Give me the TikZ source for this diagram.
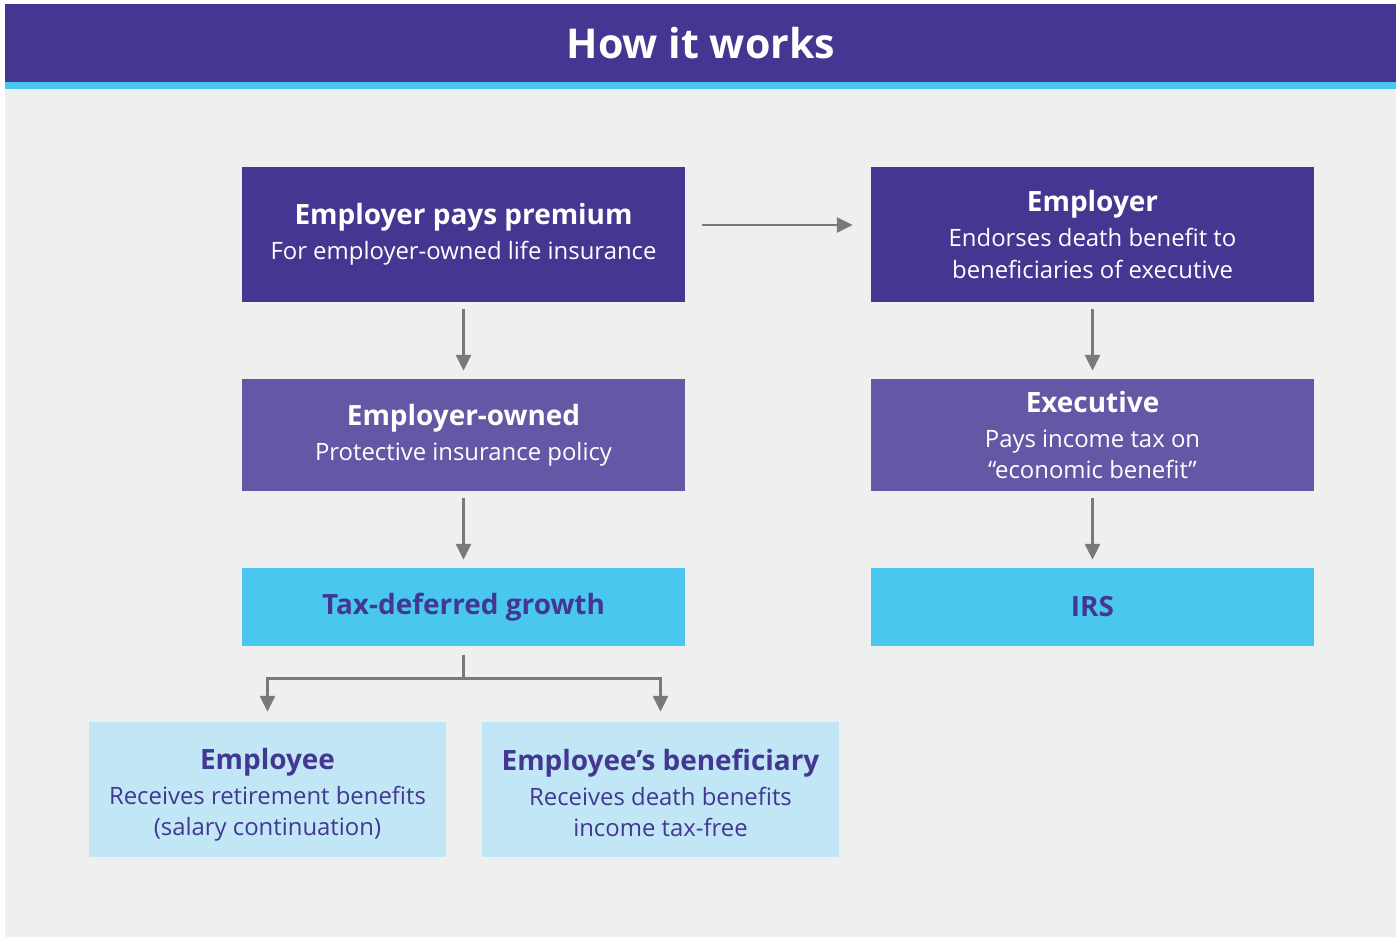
\documentclass[tikz,border=0pt]{standalone}
\usepackage{fontspec}
\setmainfont{Open Sans}
\usetikzlibrary{arrows.meta}

\definecolor{deeppurple}{HTML}{443792}
\definecolor{midpurple}{HTML}{6657A6}
\definecolor{skyblue}{HTML}{4AC7EE}
\definecolor{paleblue}{HTML}{C1E6F6}
\definecolor{panelgrey}{HTML}{EEF0EF}
\definecolor{arrowgrey}{HTML}{797979}

\newcommand\boxhead[1]{{\fontsize{15.9}{19}\selectfont\bfseries #1}}

\tikzset{
  stage/.style={rectangle, minimum width=8.86cm, align=center, inner sep=0pt,
    font=\fontsize{13.6}{18}\selectfont},
  darkstage/.style={stage, fill=deeppurple, text=white, minimum height=2.7cm},
  midstage/.style={stage, fill=midpurple, text=white, minimum height=2.24cm},
  bluestage/.style={stage, fill=skyblue, text=deeppurple, minimum height=1.56cm},
  palestage/.style={stage, fill=paleblue, text=deeppurple, minimum width=7.14cm,
    minimum height=2.7cm},
  flow/.style={draw=arrowgrey, line width=1.6pt,
    -{Triangle[length=9pt,width=8.5pt]}}
}

\begin{document}
\begin{tikzpicture}[x=0.02cm,y=-0.02cm]
\useasboundingbox (0,0) rectangle (1396,939);
% panel and header band
\fill[panelgrey] (5,4) rectangle (1396,937);
\fill[deeppurple] (5,4) rectangle (1396,82);
\fill[skyblue] (5,82) rectangle (1396,89);
\node[text=white, font=\fontsize{23.4}{28}\selectfont\bfseries] (title) at (701,43) {How it works};

% left column
\node[darkstage] (premium) at (463.5,234.5)
  {\boxhead{Employer pays premium}\\[2pt] For employer-owned life insurance};
\node[midstage] (owned) at (463.5,435)
  {\boxhead{Employer-owned}\\[2pt] Protective insurance policy};
\node[bluestage] (growth) at (463.5,607)
  {\boxhead{Tax-deferred growth}};
\node[palestage] (employee) at (267.5,789.5)
  {\rule{0pt}{18pt}\boxhead{Employee}\\[2pt] Receives retirement benefits\\ (salary continuation)};
\node[palestage] (benef) at (660.5,789.5)
  {\rule{0pt}{18pt}\boxhead{Employee’s beneficiary}\\[2pt] Receives death benefits\\ income tax-free\vphantom{(}};

% right column
\node[darkstage] (employer) at (1092.5,234.5)
  {\boxhead{Employer}\\[2pt] Endorses death benefit to\\ beneficiaries of executive};
\node[midstage] (exec) at (1092.5,435)
  {\boxhead{Executive}\\[2pt] Pays income tax on\\ “economic benefit”};
\node[bluestage] (irs) at (1092.5,607)
  {\boxhead{IRS}};

% connectors
\path[flow] ([xshift=0.34cm,yshift=0.19cm]premium.east) -- ([xshift=-0.36cm,yshift=0.19cm]employer.west);
\path[flow] ([yshift=-0.14cm]premium.south) -- ([yshift=0.16cm]owned.north);
\path[flow] ([yshift=-0.14cm]owned.south) -- ([yshift=0.16cm]growth.north);
\path[flow] ([yshift=-0.14cm]employer.south) -- ([yshift=0.16cm]exec.north);
\path[flow] ([yshift=-0.14cm]exec.south) -- ([yshift=0.16cm]irs.north);
\path[flow] ([yshift=-0.18cm]growth.south) -- ++(0,23) coordinate (split)
  -| ([yshift=0.2cm]employee.north);
\path[flow] (split) -| ([yshift=0.2cm]benef.north);
\end{tikzpicture}
\end{document}
